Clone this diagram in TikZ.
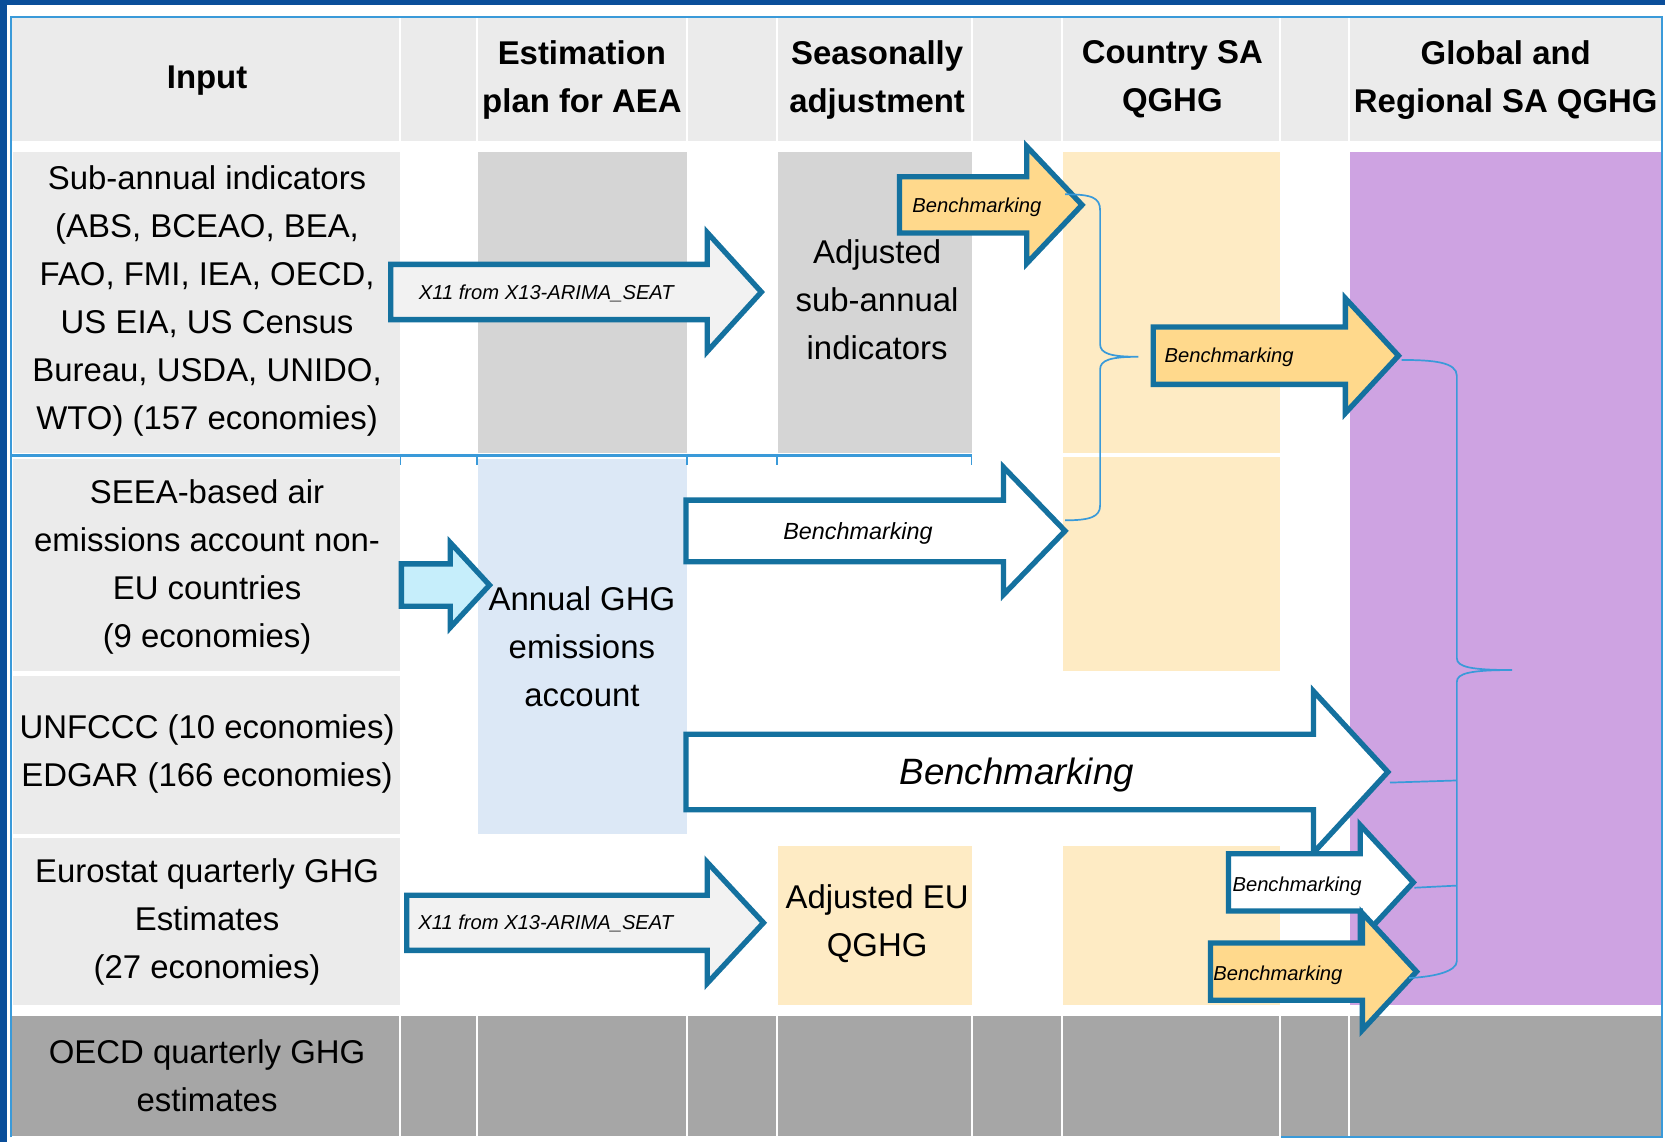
\documentclass[tikz,border=0pt]{standalone}
\usepackage{fontspec}
\setmainfont{Liberation Sans}
\definecolor{darkband}{HTML}{0A4E9A}
\definecolor{frameblue}{HTML}{3A9AD9}
\definecolor{hdrgrey}{HTML}{EBEBEB}
\definecolor{midgrey}{HTML}{D5D5D5}
\definecolor{darkgrey}{HTML}{A6A6A6}
\definecolor{lorange}{HTML}{FEEBC4}
\definecolor{lpurple}{HTML}{CEA3E2}
\definecolor{lblue}{HTML}{DCE8F6}
\definecolor{arrowblue}{HTML}{14719F}
\definecolor{arrorange}{HTML}{FFD98C}
\definecolor{arrcyan}{HTML}{C6EEFB}
\definecolor{arrgrey}{HTML}{F2F2F2}
\tikzset{
  txt/.style={font=\fontsize{31}{45.2}\selectfont, align=center, inner sep=0pt},
  hdr/.style={font=\fontsize{31}{45.2}\selectfont\bfseries, align=center, inner sep=0pt},
  lbl/.style={font=\fontsize{19}{22}\selectfont\itshape, inner sep=0pt},
  arrowline/.style={draw=arrowblue, line width=5pt, line join=miter},
  bracel/.style={draw=frameblue, line width=1.6pt},
  sepl/.style={draw=white, line width=2pt},
}
% #1 name of tip coordinate, #2 left x, #3 head base x, #4 tip x, #5 centre y, #6 shaft half height, #7 head half height, #8 fill
\newcommand{\blockarr}[8]{%
  \draw[arrowline, fill=#8] (#2,{#5-#6}) -- (#3,{#5-#6}) -- (#3,{#5-#7}) -- (#4,#5) -- (#3,{#5+#7}) -- (#3,{#5+#6}) -- (#2,{#5+#6}) -- cycle;
  \coordinate (#1) at (#4,#5);
}
\begin{document}
\begin{tikzpicture}[x=1pt,y=-1pt]
\useasboundingbox (0,0) rectangle (1568,1075);
\fill[white] (0,0) rectangle (1568,1075);
% outer band
\fill[darkband] (0,0) rectangle (1568,4.5);
\fill[darkband] (0,0) rectangle (7,1075);
% header row
\fill[hdrgrey] (11,17) rectangle (1565,133);
\foreach \x in {377,449,647,732,915,1000,1205,1270} \draw[sepl] (\x,17) -- (\x,133);
% body cells
\fill[hdrgrey] (12,143) rectangle (377,427);
\fill[midgrey] (450,143) rectangle (647,427);
\fill[midgrey] (733,143) rectangle (915,427);
\fill[lorange] (1001,143) rectangle (1205,427);
\fill[lorange] (1001,430) rectangle (1205,632);
\fill[lpurple] (1271,143) rectangle (1565,946);
\fill[hdrgrey] (12,432) rectangle (377,632);
\fill[hdrgrey] (12,637) rectangle (377,785);
\fill[lblue] (450,432) rectangle (647,785);
\fill[hdrgrey] (12,789) rectangle (377,946);
\fill[lorange] (733,797) rectangle (915,946);
\fill[lorange] (1001,797) rectangle (1205,946);
% bottom row
\fill[darkgrey] (11,957) rectangle (1565,1070);
\foreach \x in {377,449,647,732,915,1000,1205,1270} \draw[sepl] (\x,957) -- (\x,1070);
% frame lines
\draw[frameblue, line width=2pt] (10,1071) -- (10,16) -- (1565,16) -- (1565,1071) -- (1206,1071);
\draw[frameblue, line width=2pt] (10,429) -- (915,429);
\foreach \x in {377,449,647,732,915} \draw[frameblue, line width=1.5pt] (\x,429) -- (\x,438);
% header texts
\node[hdr] (hInput) at (195,76) {Input};
\node[hdr] (hEst) at (548,75) {Estimation\\plan for AEA};
\node[hdr] (hSA) at (826,75) {Seasonally\\adjustment};
\node[hdr] (hCty) at (1104,75) {Country SA\\QGHG};
\node[hdr] (hGlob) at (1418,75) {Global and\\Regional SA QGHG};
% block arrows
\blockarr{A1tip}{368}{666}{717}{275}{26}{56}{arrgrey}
\blockarr{A6tip}{378}{424}{461}{551}{20}{40}{arrcyan}
\blockarr{A7tip}{383}{666}{719}{869}{26}{57}{arrgrey}
\blockarr{A4tip}{646}{945}{1003}{500}{29}{60}{white}
\blockarr{A2tip}{847}{967}{1019}{193}{26.5}{55}{arrorange}
\blockarr{A3tip}{1086}{1267}{1317}{335}{27}{54}{arrorange}
\blockarr{A5tip}{646}{1237}{1307}{727}{35.5}{76}{white}
\blockarr{A8tip}{1157}{1281}{1331}{831}{27}{54}{white}
\blockarr{A9tip}{1140}{1283}{1334}{915}{27}{55}{arrorange}
% arrow labels
\node[lbl] (l1) at (514.5,276) {X11 from X13-ARIMA\_SEAT};
\node[lbl] (l7) at (514,870) {X11 from X13-ARIMA\_SEAT};
\node[lbl] (l2) at (920,195) {Benchmarking};
\node[lbl] (l3) at (1157.5,336) {Benchmarking};
\node[lbl, font=\fontsize{22}{26}\selectfont\itshape] (l4) at (808,502) {Benchmarking};
\node[lbl, font=\fontsize{34.5}{40}\selectfont\itshape] (l5) at (957.5,730) {Benchmarking};
\node[lbl] (l8) at (1221.5,835) {Benchmarking};
\node[lbl] (l9) at (1203.5,918) {Benchmarking};
% body texts
\node[txt] (inSub) at (195,283) {Sub-annual indicators\\(ABS, BCEAO, BEA,\\FAO, FMI, IEA, OECD,\\US EIA, US Census\\Bureau, USDA, UNIDO,\\WTO) (157 economies)};
\node[txt] (inSEEA) at (195,534) {SEEA-based air\\emissions account non-\\EU countries\\(9 economies)};
\node[txt] (inUN) at (195,710) {UNFCCC (10 economies)\\EDGAR (166 economies)};
\node[txt] (inEuro) at (195,868) {Eurostat quarterly GHG\\Estimates\\(27 economies)};
\node[txt] (inOECD) at (195,1013) {OECD quarterly GHG\\estimates};
\node[txt] (adjSub) at (826,282) {Adjusted\\sub-annual\\indicators};
\node[txt] (annual) at (548,609) {Annual GHG\\emissions\\account};
\node[txt] (adjEU) at (826,870) {Adjusted EU\\QGHG};
% braces
\coordinate (b1top) at (1003,183);
\coordinate (b1bot) at (1003,490);
\draw[bracel] (b1top) .. controls (1028,183) and (1036,186) .. (1036,198) -- (1036,324) .. controls (1036,333) and (1046,336) .. (1072,336) .. controls (1046,336) and (1036,339) .. (1036,348) -- (1036,476) .. controls (1036,487) and (1026,490) .. (b1bot);
\coordinate (b2top) at (1320,339);
\coordinate (b2bot) at (1327,921);
\draw[bracel] (b2top) .. controls (1350,339) and (1372,341) .. (1372,354) -- (1372,620) .. controls (1372,628) and (1385,631) .. (1424,631) .. controls (1385,631) and (1372,634) .. (1372,642) -- (1372,905) .. controls (1372,915) and (1350,920) .. (b2bot);
\coordinate (s5) at (1372,735);
\coordinate (s8) at (1372,834);
\draw[bracel] (1309,737) -- (s5);
\draw[bracel] (1332,836) -- (s8);
\end{tikzpicture}
\end{document}
